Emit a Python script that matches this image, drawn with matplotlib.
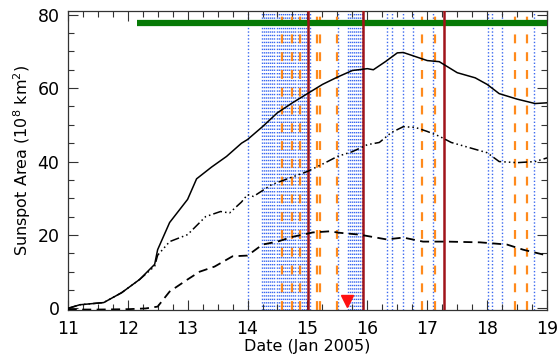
import matplotlib
matplotlib.use('Agg')
import matplotlib.pyplot as plt
from matplotlib.ticker import MultipleLocator

# total area (solid)
t_total = [11.0, 11.2, 11.6, 11.9, 12.2, 12.45, 12.5, 12.7, 13.0, 13.15, 13.4, 13.65,
           13.9, 14.0, 14.25, 14.5, 14.75, 15.0, 15.25, 15.5, 15.75, 16.0, 16.1, 16.3,
           16.5, 16.6, 16.8, 17.0, 17.2, 17.5, 17.8, 18.0, 18.2, 18.5, 18.8, 19.0]
a_total = [0.0, 1.0, 1.6, 4.3, 7.9, 12.0, 16.0, 23.4, 29.7, 35.3, 38.5, 41.4,
           45.0, 46.0, 49.5, 53.3, 56.0, 58.5, 61.0, 63.0, 64.8, 65.3, 65.0, 67.2,
           69.6, 69.7, 68.6, 67.5, 67.2, 64.2, 62.8, 61.0, 58.5, 57.0, 55.8, 56.0]

# penumbra area (dash-dot-dot)
t_pen = [11.0, 11.2, 11.6, 11.9, 12.2, 12.45, 12.5, 12.7, 13.0, 13.3, 13.55, 13.7,
         13.9, 14.0, 14.1, 14.4, 14.7, 15.0, 15.3, 15.5, 15.75, 16.0, 16.2, 16.4,
         16.6, 16.8, 17.0, 17.2, 17.4, 17.7, 18.0, 18.2, 18.5, 18.8, 19.0]
a_pen = [0.0, 1.0, 1.6, 4.3, 7.9, 11.5, 14.5, 18.2, 20.1, 25.0, 26.4, 26.0,
         29.0, 31.0, 30.5, 33.7, 35.5, 37.3, 39.7, 41.4, 42.7, 44.6, 45.2, 47.9,
         49.5, 49.3, 48.2, 46.9, 45.2, 43.8, 42.4, 40.0, 39.7, 40.0, 41.0]

# umbra area (dashed)
t_umb = [11.0, 11.5, 12.0, 12.3, 12.5, 12.7, 13.0, 13.2, 13.45, 13.75, 14.0, 14.25,
         14.5, 14.75, 15.09, 15.37, 15.54, 15.87, 16.32, 16.6, 16.93, 17.33, 17.88,
         18.33, 18.6, 18.93, 19.0]
a_umb = [-0.3, -0.3, -0.2, 0.0, 0.5, 4.6, 7.9, 10.0, 11.4, 14.2, 14.4, 17.4,
         18.2, 19.5, 20.7, 21.0, 20.6, 20.1, 18.8, 19.3, 18.2, 18.2, 18.0,
         17.4, 16.0, 14.7, 14.5]

blue_days = ([14.0] + [14.24 + 0.035 * i for i in range(22)] + [15.05, 15.51]
             + [15.67 + 0.035 * i for i in range(8)]
             + [16.33, 16.41, 16.59, 16.76, 17.09, 18.01, 18.08, 18.25, 18.78])
orange_days = [14.57, 14.74, 14.87, 15.16, 15.21, 15.49, 16.91, 17.13, 18.46, 18.66]
red_days = [15.01, 15.92, 17.28]

green_start, green_end, green_level = 12.15, 19.0, 77.6
flare_day, flare_level = 15.66, 2.0

fig = plt.figure(figsize=(5.6, 3.55), dpi=100)
ax = fig.add_axes([0.121, 0.127, 0.856, 0.842])

for d in blue_days:
    ax.axvline(d, color='#3a68f0', lw=1.0, ls=(0, (1, 1.5)), zorder=1)
for d in orange_days:
    ax.axvline(d, color='#ff8a1c', lw=1.6, ls=(0, (4, 4)), zorder=2)

ax.plot([green_start, green_end], [green_level, green_level], color='#067a06',
        lw=4.5, solid_capstyle='butt', zorder=3)

for d in red_days:
    ax.axvline(d, color='#a0141a', lw=1.8, zorder=4)

ax.plot(t_total, a_total, color='black', lw=1.1, zorder=5)
ax.plot(t_pen, a_pen, color='black', lw=1.1, ls=(0, (6, 2, 1, 2, 1, 2, 1, 2)), zorder=5)
ax.plot(t_umb, a_umb, color='black', lw=1.3, ls=(0, (5, 3)), zorder=5)

ax.plot([flare_day], [flare_level], marker='v', color='#ff1010', ms=9, ls='none',
        zorder=6, clip_on=False)

ax.set_xlim(11, 19)
ax.set_ylim(-0.4, 81)
ax.xaxis.set_major_locator(MultipleLocator(1))
ax.xaxis.set_minor_locator(MultipleLocator(0.25))
ax.yaxis.set_major_locator(MultipleLocator(20))
ax.yaxis.set_minor_locator(MultipleLocator(5))
ax.tick_params(which='both', direction='in', top=True, right=True, labelsize=12.5,
               color='#333333')
ax.tick_params(axis='x', pad=7)
ax.tick_params(axis='y', pad=6)
ax.tick_params(which='major', length=7, width=0.8)
ax.tick_params(which='minor', length=4, width=0.8)
for s in ax.spines.values():
    s.set_color('#333333')
    s.set_linewidth(0.9)

ax.set_xlabel('Date (Jan 2005)', fontsize=11.5, labelpad=1)
ax.set_ylabel('Sunspot Area (10$^8$ km$^2$)', fontsize=11.5, labelpad=3)

fig.savefig('out.png', dpi=100)
